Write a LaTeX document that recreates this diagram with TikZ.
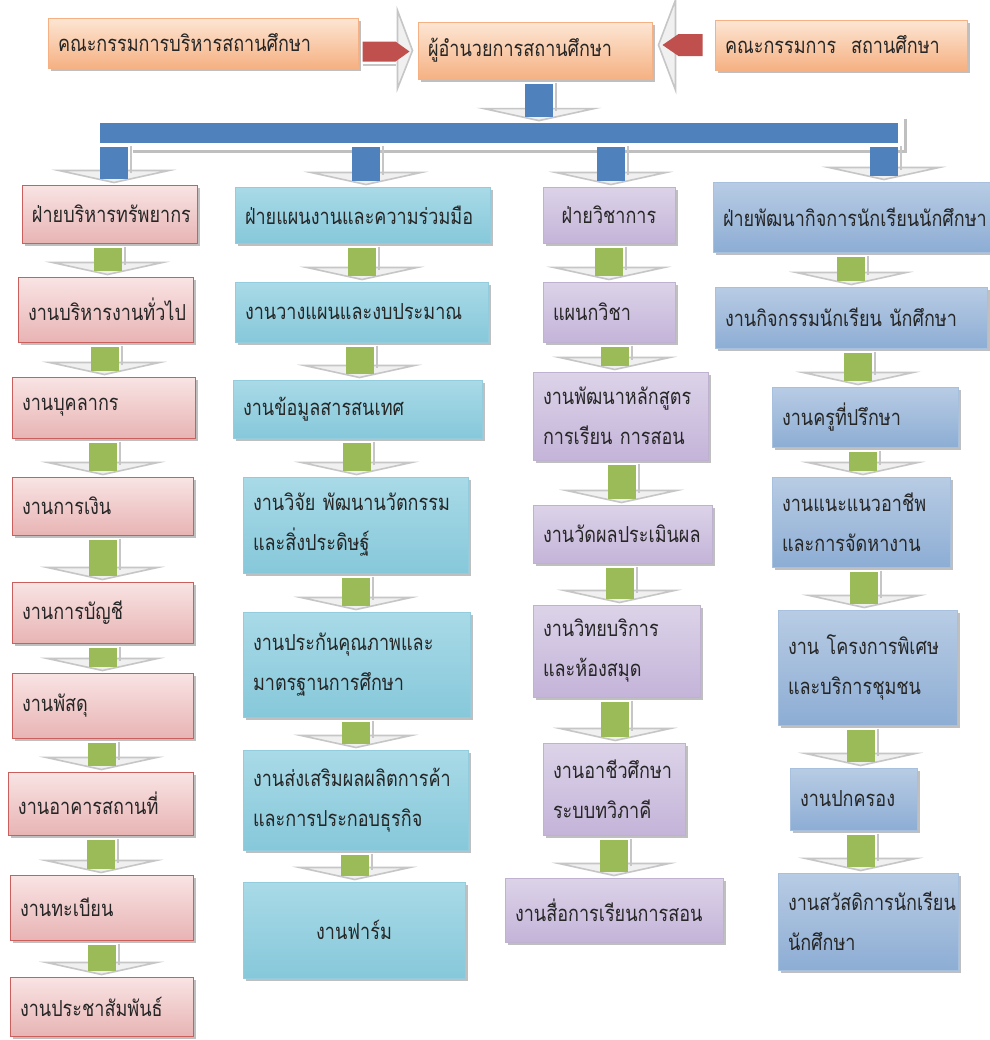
\documentclass[tikz,border=0pt]{standalone}
\usepackage{fontspec}
\newfontfamily\thaifont[Script=Thai,FakeStretch=0.82]{Loma}
\usetikzlibrary{calc,shadows}

\definecolor{orgA}{HTML}{FDE6D4}
\definecolor{orgB}{HTML}{F5B183}
\definecolor{pnkA}{HTML}{F9E4E4}
\definecolor{pnkB}{HTML}{E8B4B4}
\definecolor{pnkE}{HTML}{C9605D}
\definecolor{cynA}{HTML}{A9DAE7}
\definecolor{cynM}{HTML}{DDF1F6}
\definecolor{cynB}{HTML}{86C8DA}
\definecolor{cynE}{HTML}{4BACC6}
\definecolor{lavA}{HTML}{DCD3E8}
\definecolor{lavM}{HTML}{F0ECF5}
\definecolor{lavB}{HTML}{C4B4D9}
\definecolor{lavE}{HTML}{8064A2}
\definecolor{bluA}{HTML}{B8CCE4}
\definecolor{bluM}{HTML}{E0E9F4}
\definecolor{bluB}{HTML}{8DADD4}
\definecolor{bluE}{HTML}{4F81BD}
\definecolor{barblue}{HTML}{4F81BD}
\definecolor{leaf}{HTML}{9BBB59}
\definecolor{brick}{HTML}{C0504D}

\tikzset{
  unitbox/.style={inner xsep=5pt, inner ysep=2pt, line width=0.5pt,
    font=\thaifont\fontsize{11}{20}\selectfont, text=black!85,
    drop shadow={shadow xshift=1.5pt, shadow yshift=-1.5pt, fill=black!50}},
  topbox/.style={unitbox, draw=orgB, top color=orgA, bottom color=orgB},
  resbox/.style={unitbox, draw=pnkE, top color=pnkA, bottom color=pnkB},
  planbox/.style={unitbox, draw=cynE!60, top color=cynA, middle color=cynM, bottom color=cynB},
  acadbox/.style={unitbox, draw=lavE!50, top color=lavA, middle color=lavM, bottom color=lavB},
  studbox/.style={unitbox, draw=bluE!50, top color=bluA, middle color=bluM, bottom color=bluB},
  headfill/.style={fill=gray!12, draw=gray!45, line width=0.8pt}
}

% box from its corners (x1,y1) (x2,y2), in pixels
\newcommand{\bx}[8][left]{%
  \pgfmathsetmacro{\bw}{(#6-#4)/2}%
  \pgfmathsetmacro{\bh}{(#7-#5)/2}%
  \pgfmathsetmacro{\tw}{(#6-#4)/2-10}%
  \node[#2, minimum width=\bw pt, minimum height=\bh pt, text width=\tw pt, align=#1]
    (#3) at ({(#4+#6)/2},{(#5+#7)/2}) {#8};
}

% block arrow pointing down, between two nodes, at the x of #4
\newcommand{\dnarrowx}[4]{%
  \fill[headfill] ($(#2.north -| #4)+(-55,-14)$) -- ($(#2.north -| #4)+(55,-14)$)
    -- ($(#2.north -| #4)+(0,-2)$) -- cycle;
  \draw[gray!45, line width=1pt] ($(#1.south -| #4)+(17,3)$) -- ($(#2.north -| #4)+(17,-12)$);
  \fill[#3] ($(#1.south -| #4)+(-14,4)$) rectangle ($(#2.north -| #4)+(14,-6)$);
}
\newcommand{\dnarrow}[3]{%
  \coordinate (m) at ($(#1.south)!.5!(#2.north)$);
  \dnarrowx{#1}{#2}{#3}{m}
}

\begin{document}
\begin{tikzpicture}[x=0.5pt, y=-0.5pt]

\fill[white] (0,0) rectangle (990,1040);
\useasboundingbox (0,0) rectangle (990,1040);

% Top row
\bx{topbox}{adm}{48}{18}{358}{68}{คณะกรรมการบริหารสถานศึกษา}
\bx{topbox}{dir}{418}{22}{652}{79}{ผู้อำนวยการสถานศึกษา}
\bx{topbox}{brd}{715}{20}{967}{70}{คณะกรรมการ~~สถานศึกษา}

\coordinate (la) at (adm.east |- dir.west);
\coordinate (rb) at (dir.east |- brd.west);
\fill[headfill] ($(dir.west)+(-20,-40)$) -- ($(dir.west)+(-5,0)$) -- ($(dir.west)+(-20,38)$) -- cycle;
\draw[gray!45, line width=1pt] ($(la)+(4,14)$) -- ($(dir.west)+(-22,14)$);
\fill[brick] ($(la)+(4,-9)$) -- ($(dir.west)+(-22,-9)$) -- ($(dir.west)+(-8,1)$)
  -- ($(dir.west)+(-22,11)$) -- ($(la)+(4,11)$) -- cycle;
\fill[headfill] ($(rb)+(23,-45)$) -- ($(rb)+(6,0)$) -- ($(rb)+(23,45)$) -- cycle;
\fill[brick] ($(brd.west)+(-12,-11)$) -- ($(rb)+(26,-11)$) -- ($(rb)+(10,0)$)
  -- ($(rb)+(26,11)$) -- ($(brd.west)+(-12,11)$) -- cycle;

% Bar
\node[fill=barblue, minimum width=399pt, minimum height=10pt, inner sep=0] (bar) at (499,133) {};
\draw[gray!50, line width=1.2pt] ($(bar.south west)+(33,8)$) -- ($(bar.south east)+(7,8)$);
\draw[gray!50, line width=1.2pt] ($(bar.north east)+(7,-4)$) -- ($(bar.south east)+(7,10)$);
\coordinate (kd) at (539,0);
\dnarrowx{dir}{bar}{barblue}{kd}

% Resources
\bx{resbox}{r0}{22}{185}{197}{243}{ฝ่ายบริหารทรัพยากร}
\bx{resbox}{r1}{18}{277}{193}{342}{งานบริหารงานทั่วไป}
\bx{resbox}{r2}{12}{377}{195}{438}{งานบุคลากร}
\bx{resbox}{r3}{12}{477}{193}{535}{งานการเงิน}
\bx{resbox}{r4}{12}{582}{193}{643}{งานการบัญชี}
\bx{resbox}{r5}{12}{673}{193}{738}{งานพัสดุ}
\bx{resbox}{r6}{8}{772}{193}{835}{งานอาคารสถานที่}
\bx{resbox}{r7}{10}{875}{193}{940}{งานทะเบียน}
\bx{resbox}{r8}{10}{977}{193}{1036}{งานประชาสัมพันธ์}

% Planning
\bx{planbox}{c0}{235}{187}{490}{243}{ฝ่ายแผนงานและความร่วมมือ}
\bx{planbox}{c1}{235}{282}{488}{342}{งานวางแผนและงบประมาณ}
\bx{planbox}{c2}{233}{380}{482}{438}{งานข้อมูลสารสนเทศ}
\bx{planbox}{c3}{243}{477}{468}{573}{งานวิจัย~พัฒนานวัตกรรม\\และสิ่งประดิษฐ์}
\bx{planbox}{c4}{243}{612}{470}{717}{งานประกันคุณภาพและ\\มาตรฐานการศึกษา}
\bx{planbox}{c5}{243}{750}{468}{850}{งานส่งเสริมผลผลิตการค้า\\และการประกอบธุรกิจ}
\bx[center]{planbox}{c6}{243}{882}{465}{978}{งานฟาร์ม}

% Academic
\bx[center]{acadbox}{v0}{543}{187}{675}{243}{ฝ่ายวิชาการ}
\bx{acadbox}{v1}{543}{282}{675}{342}{แผนกวิชา}
\bx{acadbox}{v2}{533}{372}{708}{460}{งานพัฒนาหลักสูตร\\การเรียน~การสอน}
\bx{acadbox}{v3}{533}{505}{712}{563}{งานวัดผลประเมินผล}
\bx{acadbox}{v4}{533}{605}{700}{697}{งานวิทยบริการ\\และห้องสมุด}
\bx{acadbox}{v5}{543}{743}{685}{835}{งานอาชีวศึกษา\\ระบบทวิภาคี}
\bx{acadbox}{v6}{505}{878}{723}{942}{งานสื่อการเรียนการสอน}

% Students
\bx{studbox}{s0}{713}{182}{990}{252}{ฝ่ายพัฒนากิจการนักเรียนนักศึกษา}
\bx{studbox}{s1}{715}{287}{987}{348}{งานกิจกรรมนักเรียน~นักศึกษา}
\bx{studbox}{s2}{772}{387}{958}{447}{งานครูที่ปรึกษา}
\bx{studbox}{s3}{772}{477}{950}{567}{งานแนะแนวอาชีพ\\และการจัดหางาน}
\bx{studbox}{s4}{778}{610}{957}{725}{งาน~โครงการพิเศษ\\และบริการชุมชน}
\bx{studbox}{s5}{790}{768}{917}{830}{งานปกครอง}
\bx{studbox}{s6}{778}{873}{958}{970}{งานสวัสดิการนักเรียน\\นักศึกษา}

% Branches
\coordinate (k1) at (114,0);
\coordinate (k2) at (366,0);
\coordinate (k3) at (611,0);
\coordinate (k4) at (884,0);
\dnarrowx{bar}{r0}{barblue}{k1}
\dnarrowx{bar}{c0}{barblue}{k2}
\dnarrowx{bar}{v0}{barblue}{k3}
\dnarrowx{bar}{s0}{barblue}{k4}

% Steps
\foreach \a/\b in {r0/r1,r1/r2,r2/r3,r3/r4,r4/r5,r5/r6,r6/r7,r7/r8,
  c0/c1,c1/c2,c2/c3,c3/c4,c4/c5,c5/c6,
  v0/v1,v1/v2,v2/v3,v3/v4,v4/v5,v5/v6,
  s0/s1,s1/s2,s2/s3,s3/s4,s4/s5,s5/s6}
  {\dnarrow{\a}{\b}{leaf}}

\end{tikzpicture}
\end{document}
